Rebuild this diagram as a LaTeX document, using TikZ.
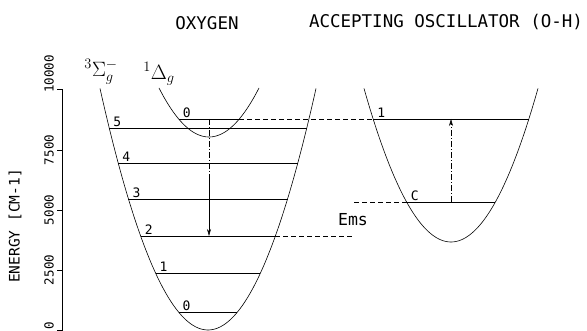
\documentclass[tikz,border=0pt]{standalone}
\usepackage{fontspec}
\newfontfamily\plotfont{DejaVu Sans Mono}
\usetikzlibrary{arrows.meta,positioning,calc}

\tikzset{
  curve/.style={line width=0.6pt},
  level/.style={line width=0.6pt},
  link/.style={line width=0.6pt, dash pattern=on 5pt off 3pt},
  trans/.style={line width=0.5pt, -{Stealth[length=7pt,width=4pt]}},
  dashdot/.style={dash pattern=on 6pt off 2pt on 1pt off 2pt},
  vlab/.style={font=\plotfont\fontsize{13}{13}\selectfont, inner sep=1pt, anchor=south west},
  ticklab/.style={font=\plotfont\fontsize{12.5}{12.5}\selectfont, rotate=90, inner sep=0pt},
  title/.style={font=\plotfont\fontsize{17.5}{17.5}\selectfont},
}

\begin{document}
\begin{tikzpicture}[x=1pt,y=1pt]
    \useasboundingbox (0,0) rectangle (587,331);

    % titles
    \node[title] (toxy) at (207,308) {OXYGEN};
    \node[title] (tacc) at (446,309) {ACCEPTING OSCILLATOR (O-H)};

    % energy axis
    \coordinate (ax0) at (62,0);
    \coordinate (ax1) at (62,242);
    \draw[line width=0.4pt] (ax0) -- (ax1);
    \foreach \e/\y in {0/1,2500/61,5000/121,7500/181,10000/242} {
        \draw[line width=0.5pt] (57,\y) -- (62,\y);
    }
    \foreach \e/\y in {0/5.5,2500/61,5000/121,7500/181,10000/257} {
        \node[ticklab] (tick\e) at (49,\y) {\e};
    }
    \node[font=\plotfont\fontsize{14.5}{14.5}\selectfont, rotate=90] (ylab) at (15,105) {ENERGY [CM-1]};

    % ground state 3Sigma_g^-
    \draw[curve, domain=100:316, samples=80] plot (\x, {1+0.0207*(\x-208)^2});
    \foreach \v/\e in {0/19,1/58,2/95,3/132,4/168,5/203} {
        \pgfmathsetmacro\dx{sqrt((\e-1)/0.0207)}
        \coordinate (g\v L) at (208-\dx,\e);
        \coordinate (g\v R) at (208+\dx,\e);
        \draw[level] (g\v L) -- (g\v R);
        \node[vlab] (gl\v) at ($(g\v L)+(3,0.5)$) {\v};
    }
    \node[font=\fontsize{21}{21}\selectfont] (sig) at (101,259) {$^{3}\Sigma_{g}^{-}$};

    % excited state 1Delta_g
    \draw[curve, domain=159:259, samples=60] plot (\x, {194+0.0196*(\x-209)^2});
    \coordinate (d0L) at (209-30.3,212);
    \coordinate (d0R) at (209+30.3,212);
    \coordinate (d0C) at (209,212);
    \draw[level] (d0L) -- (d0R);
    \node[vlab] (dl0) at ($(d0L)+(3,0.5)$) {0};
    \node[font=\fontsize{21}{21}\selectfont] (del) at (159,257) {$^{1}\Delta_{g}$};

    % accepting oscillator (O-H)
    \draw[curve, domain=364:538, samples=80] plot (\x, {89+0.0203*(\x-451)^2});
    \foreach \v/\e in {0/129,1/212} {
        \pgfmathsetmacro\dx{sqrt((\e-89)/0.0203)}
        \coordinate (a\v L) at (451-\dx,\e);
        \coordinate (a\v R) at (451+\dx,\e);
        \coordinate (a\v C) at (451,\e);
        \draw[level] (a\v L) -- (a\v R);
    }
    \node[vlab] (al1) at ($(a1L)+(3,0.5)$) {1};
    \node[vlab] (al0) at ($(a0L)+(3,0.5)$) {C};

    % energy matching
    \coordinate (emsA) at (355,95);
    \coordinate (emsB) at (354,129);
    \draw[link] (d0R) -- (a1L);
    \draw[link] (g2R) -- (emsA);
    \draw[link] (emsB) -- (a0L);
    \node[font=\plotfont\fontsize{16.5}{16.5}\selectfont] (ems) at (353,111) {Ems};

    % transitions
    \coordinate (dmid) at (209,155);
    \coordinate (g2C) at (209,95);
    \draw[line width=0.5pt, dashdot] (d0C) -- (dmid);
    \draw[trans] (dmid) -- (g2C);
    \draw[trans, dashdot] (a0C) -- (a1C);
\end{tikzpicture}
\end{document}
